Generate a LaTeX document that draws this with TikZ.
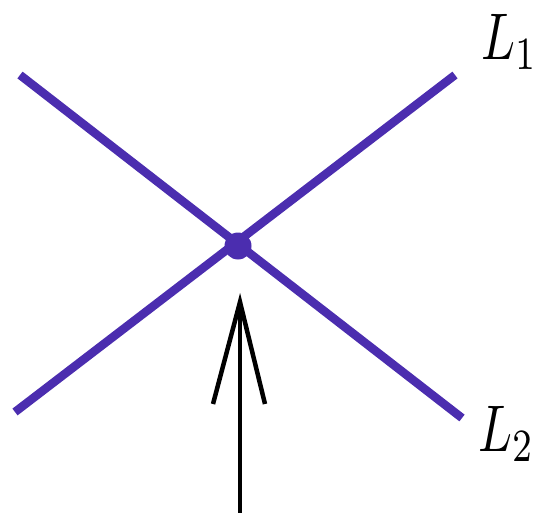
\documentclass[tikz,border=0pt]{standalone}
\definecolor{lpurple}{RGB}{75,45,175}
\begin{document}
\begin{tikzpicture}[x=1pt,y=-1pt,
  lineL/.style={line width=8.5pt, draw=lpurple},
  arrowline/.style={line width=4.5pt, draw=black},
  lbl/.style={xscale=5.0, yscale=6.6, inner sep=0pt}]
\useasboundingbox (0,0) rectangle (543,513);
\coordinate (a1) at (15,412);
\coordinate (b1) at (455,75);
\coordinate (a2) at (20,75);
\coordinate (b2) at (462,418);
\coordinate (x) at (238,246);
\draw[lineL] (a1) -- (b1);
\draw[lineL] (a2) -- (b2);
\fill[lpurple] (x) circle (13.5);
\coordinate (tip) at (240,302);
\coordinate (base) at (240,513);
\coordinate (wl) at (213,404);
\coordinate (wr) at (265,404);
\draw[arrowline] (base) -- (tip);
\draw[arrowline, line join=miter] (wl) -- (tip) -- (wr);
\node[lbl, anchor=south west] (l1) at (480,71) {$L_1$};
\node[lbl, anchor=south west] (l2) at (477,463) {$L_2$};
\end{tikzpicture}
\end{document}
